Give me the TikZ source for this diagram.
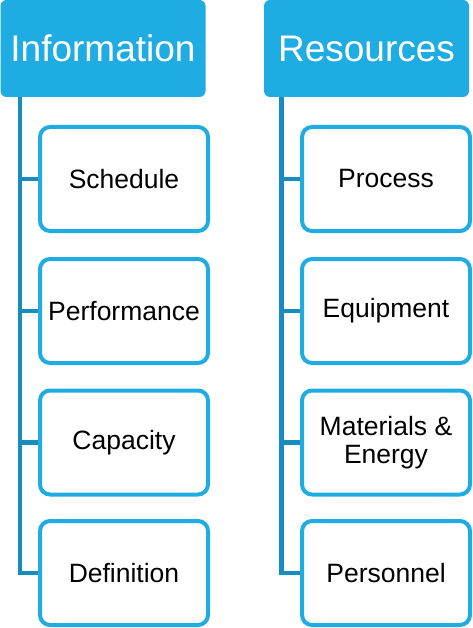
\documentclass[tikz,border=0pt]{standalone}
\usepackage{fontspec}
\setmainfont{Liberation Sans}
\usetikzlibrary{positioning, calc}
\definecolor{hdrblue}{RGB}{31,172,226}
\definecolor{linkblue}{RGB}{25,140,190}

\begin{document}
\begin{tikzpicture}[x=1pt, y=-1pt,
    header/.style={fill=hdrblue, rounded corners=6pt, minimum width=205pt, minimum height=97pt, text=white, font=\fontsize{37}{40}\selectfont, inner sep=0pt},
    item/.style={draw=hdrblue, line width=4pt, fill=white, rounded corners=10pt, minimum width=168pt, minimum height=104pt, align=center, font=\fontsize{26.5}{28.5}\selectfont, inner sep=0pt},
    link/.style={draw=linkblue, line width=4.5pt}]
  \useasboundingbox (0,0) rectangle (473,628);
  \node[header] (info) at (103,48.5) {Information};
  \node[header] (res) at (366.5,48.5) {Resources};
  \coordinate (itop) at (20,97);
  \coordinate (rtop) at (281.5,97);
  % information column
  \node[item] (sched) at (124,179) {Schedule};
  \node[item] (perf) at (124,311) {Performance};
  \node[item] (cap) at (124,442.5) {Capacity};
  \node[item] (def) at (124,573) {Definition};
  % resources column
  \node[item] (proc) at (386,179) {Process};
  \node[item] (equip) at (386,311) {Equipment};
  \node[item] (mat) at (386,442.5) {Materials \&\\Energy};
  \node[item] (pers) at (386,573) {Personnel};
  \draw[link] (itop) |- (def.west);
  \draw[link] (itop |- sched.west) -- (sched.west);
  \draw[link] (itop |- perf.west) -- (perf.west);
  \draw[link] (itop |- cap.west) -- (cap.west);
  \draw[link] (rtop) |- (pers.west);
  \draw[link] (rtop |- proc.west) -- (proc.west);
  \draw[link] (rtop |- equip.west) -- (equip.west);
  \draw[link] (rtop |- mat.west) -- (mat.west);
\end{tikzpicture}
\end{document}
